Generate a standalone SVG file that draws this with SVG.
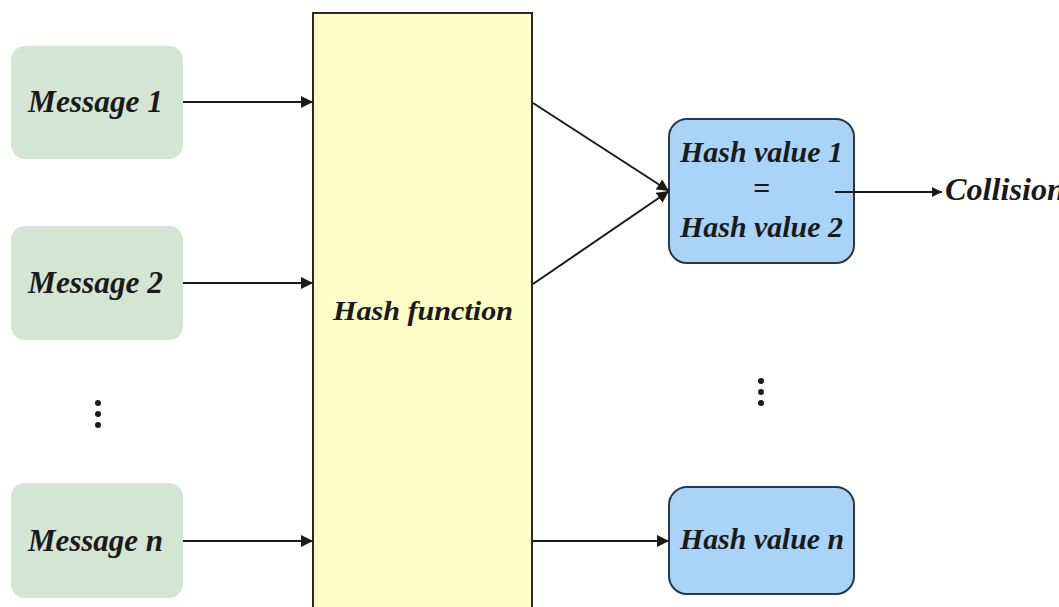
<svg xmlns="http://www.w3.org/2000/svg" width="1059" height="607" viewBox="0 0 1059 607">
<style>
.msg{fill:#d3e6d3;}
.hv{fill:#a9d4f7;stroke:#26384a;stroke-width:2;}
.t{font-family:"Liberation Serif","Times New Roman",serif;font-weight:bold;font-style:italic;fill:#1a1a1a;}
.c{stroke:#1a1a1a;stroke-width:2;fill:none;}
.dot{fill:#1a1a1a;}
</style>
<defs>
<marker id="ah" viewBox="0 0 10 10" refX="10" refY="5" markerWidth="6" markerHeight="6" markerUnits="strokeWidth" orient="auto">
<path d="M0,0 L10,5 L0,10 Z" fill="#1a1a1a"/>
</marker>
<marker id="ahb" viewBox="0 0 10 10" refX="10" refY="5" markerWidth="5" markerHeight="5" markerUnits="strokeWidth" orient="auto">
<path d="M0,0 L10,5 L0,10 Z" fill="#1a1a1a"/>
</marker>
</defs>
<rect width="1059" height="607" fill="#ffffff"/>
<g id="msg1"><rect class="msg" x="11" y="46" width="172" height="113" rx="14"/><text class="t" x="95.5" y="112" font-size="31" text-anchor="middle" textLength="135" lengthAdjust="spacingAndGlyphs">Message 1</text></g>
<g id="msg2"><rect class="msg" x="11" y="226" width="172" height="114" rx="14"/><text class="t" x="95.5" y="293" font-size="31" text-anchor="middle" textLength="135" lengthAdjust="spacingAndGlyphs">Message 2</text></g>
<g id="dots-left"><circle class="dot" cx="98" cy="403" r="3"/><circle class="dot" cx="98" cy="414" r="3"/><circle class="dot" cx="98" cy="425" r="3"/></g>
<g id="msgn"><rect class="msg" x="11" y="483" width="172" height="115" rx="14"/><text class="t" x="95.5" y="551" font-size="31" text-anchor="middle" textLength="135" lengthAdjust="spacingAndGlyphs">Message n</text></g>
<g id="hashfn"><rect x="313" y="13" width="219" height="610" fill="#fdfdc6" stroke="#2a2a2a" stroke-width="2"/><text class="t" x="423" y="320" font-size="28" text-anchor="middle" textLength="180" lengthAdjust="spacingAndGlyphs">Hash function</text></g>
<g id="hv12"><rect class="hv" x="669" y="119" width="185" height="144" rx="18"/><text class="t" x="761.5" y="162" font-size="30" text-anchor="middle" textLength="163" lengthAdjust="spacingAndGlyphs">Hash value 1</text><text class="t" x="761.5" y="198" font-size="30" text-anchor="middle">=</text><text class="t" x="761.5" y="237" font-size="30" text-anchor="middle" textLength="163" lengthAdjust="spacingAndGlyphs">Hash value 2</text></g>
<g id="dots-right"><circle class="dot" cx="761" cy="381" r="3"/><circle class="dot" cx="761" cy="392" r="3"/><circle class="dot" cx="761" cy="403" r="3"/></g>
<g id="hvn"><rect class="hv" x="669" y="487" width="185" height="107" rx="18"/><text class="t" x="762" y="549" font-size="30" text-anchor="middle" textLength="164" lengthAdjust="spacingAndGlyphs">Hash value n</text></g>
<g id="collision"><text class="t" x="945" y="200" font-size="31" textLength="120" lengthAdjust="spacingAndGlyphs">Collision</text></g>
<g id="connectors">
<line class="c" x1="183" y1="102" x2="313" y2="102" marker-end="url(#ah)"/>
<line class="c" x1="183" y1="283" x2="313" y2="283" marker-end="url(#ah)"/>
<line class="c" x1="183" y1="541" x2="313" y2="541" marker-end="url(#ah)"/>
<line class="c" x1="533" y1="103" x2="669" y2="191" marker-end="url(#ah)"/>
<line class="c" x1="533" y1="284" x2="669" y2="191" marker-end="url(#ah)"/>
<line class="c" x1="533" y1="541" x2="669" y2="541" marker-end="url(#ah)"/>
<line class="c" x1="835" y1="192" x2="942" y2="192" stroke-width="3" marker-end="url(#ahb)"/>
</g>
</svg>
